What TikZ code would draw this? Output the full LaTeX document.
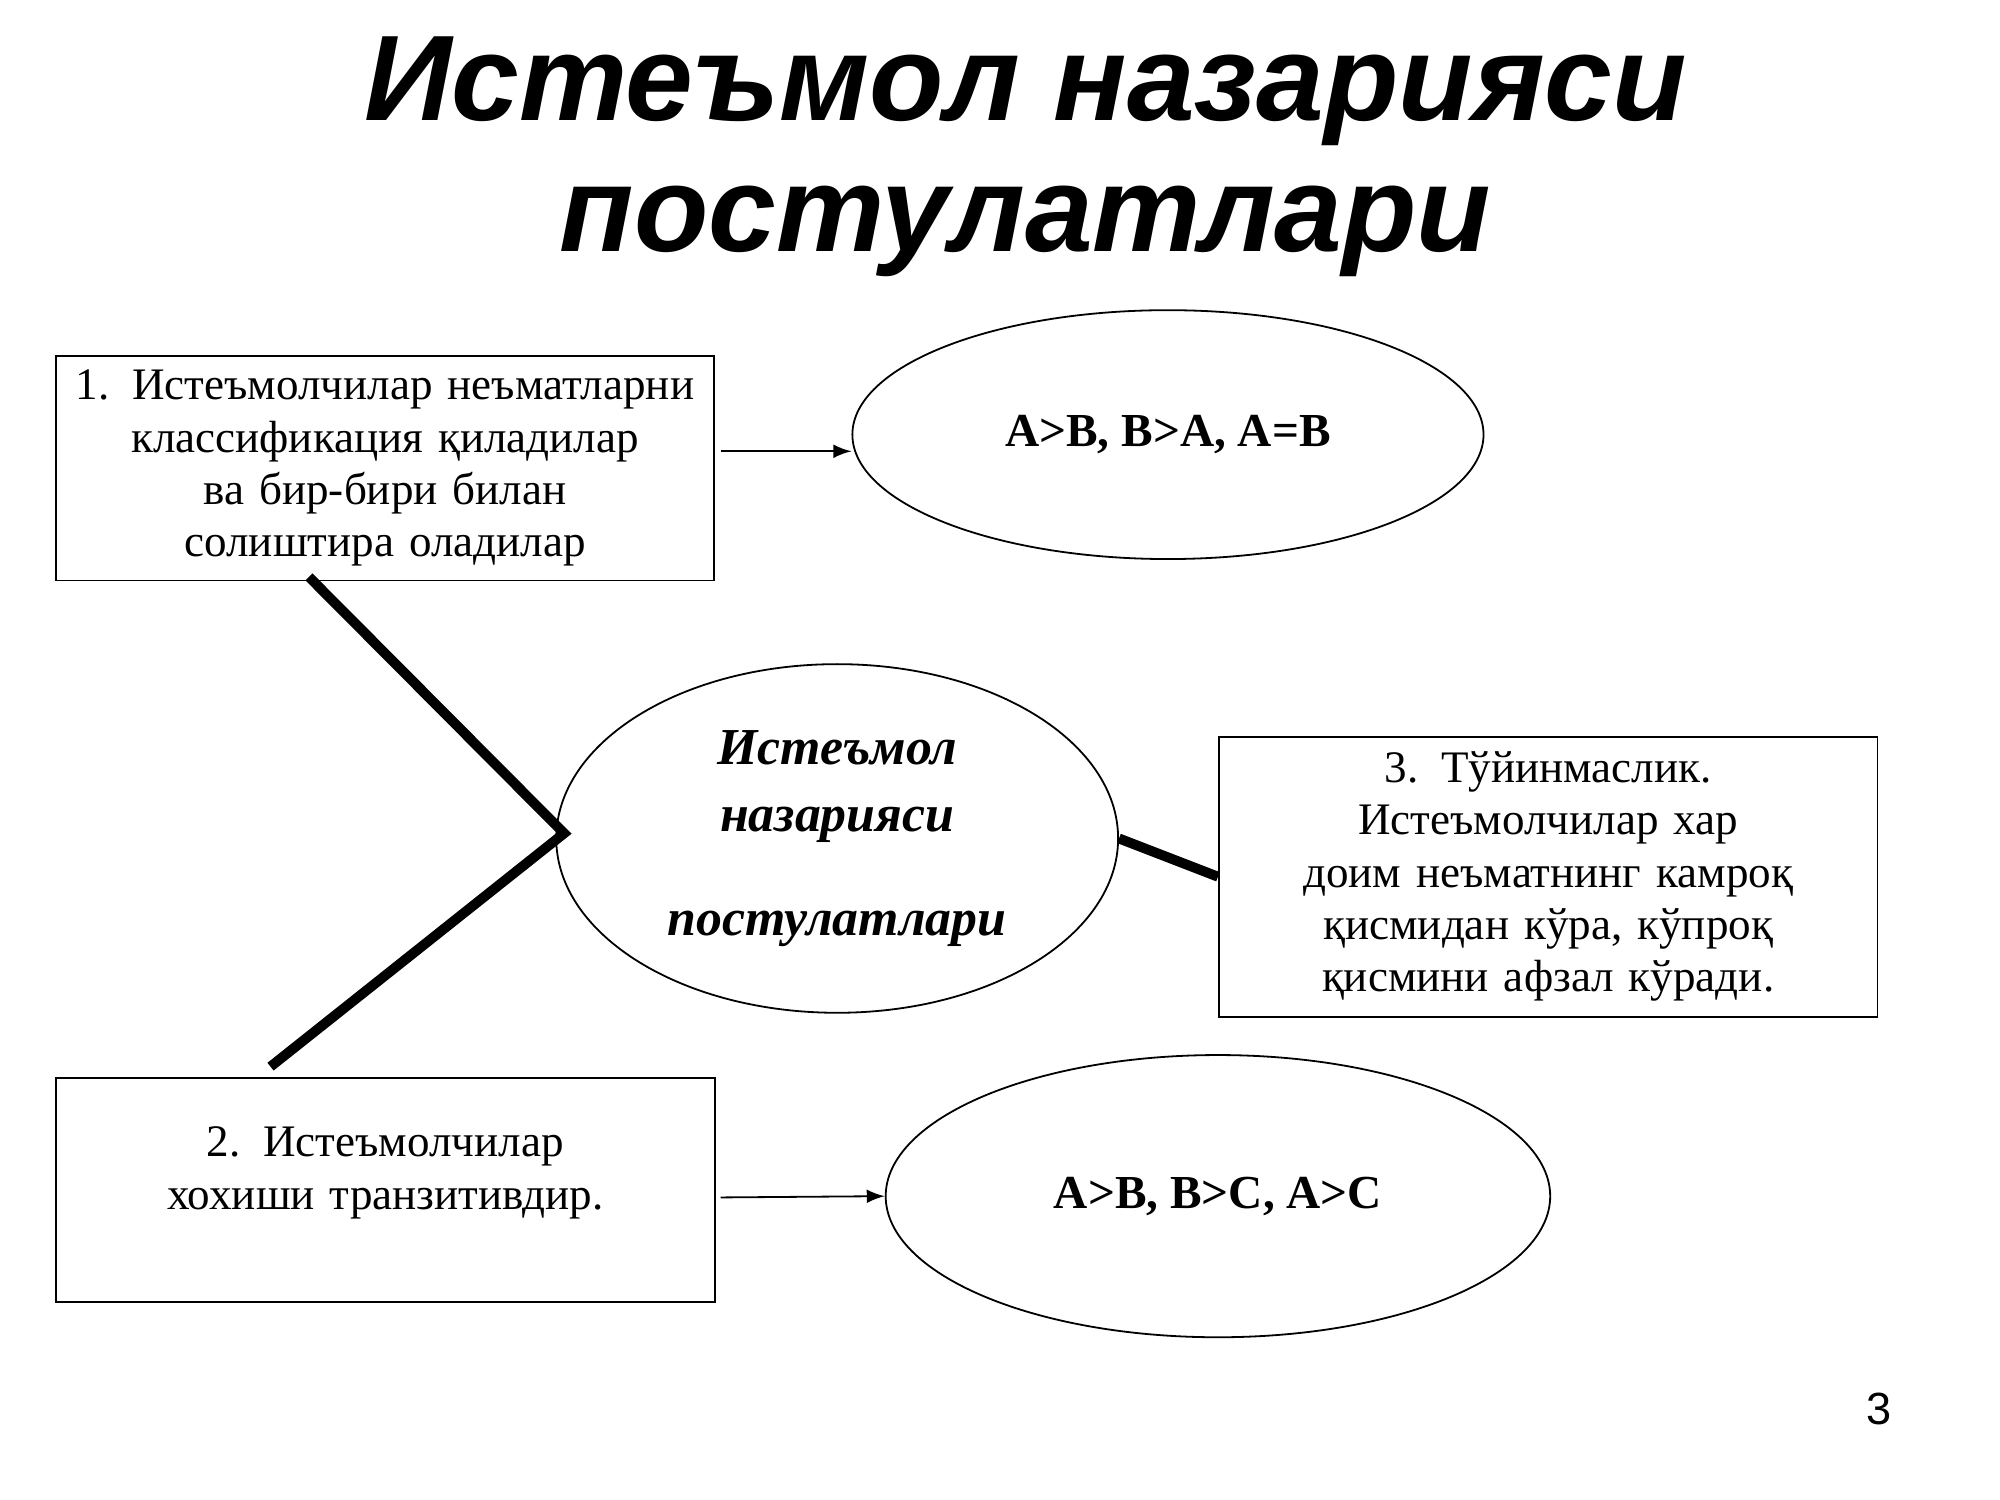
\documentclass[tikz,border=0pt]{standalone}
\usepackage{fontspec}
\setmainfont{Liberation Serif}
\newfontfamily\titlefont{Liberation Sans}
\usetikzlibrary{arrows, positioning, shapes.geometric}
\tikzstyle{line} = [draw, -latex,>=latex]
\tikzstyle{thick line} = [draw, line width=2.2pt]
\tikzstyle{postbox} = [draw, minimum width=5.13cm, minimum height=1.75cm, text width=4.9cm, align=center, font=\fontsize{10}{11.6}\selectfont]
\tikzstyle{oval} = [draw, ellipse, font=\fontsize{10.5}{12}\selectfont\bfseries]

\begin{document}
\begin{tikzpicture}[x=0.01cm, y=-0.01cm]
    \useasboundingbox (0,0) rectangle (1560,1170);

    % title
    \node[font=\titlefont\fontsize{27}{30}\selectfont\bfseries\itshape, align=center] (title) at (800,122)
        {Истеъмол назарияси\\[-1pt]постулатлари};

    % boxes
    \node[postbox, anchor=north west, inner sep=2pt] (p1) at (43,277)
        {1. Истеъмолчилар неъматларни классификация қиладилар ва бир-бири билан солиштира оладилар};
    \node[postbox, anchor=north west] (p3) at (950,574)
        {3. Тўйинмаслик. Истеъмолчилар хар доим неъматнинг камроқ қисмидан кўра, кўпроқ қисмини афзал кўради.};
    \node[postbox, anchor=north west, text depth=0.75cm] (p2) at (43,840)
        {2. Истеъмолчилар хохиши транзитивдир.};

    % ovals
    \node[oval, minimum width=4.92cm, minimum height=1.94cm] (e1) at (911,339) {A>B, B>A, A=B};
    \node[oval, minimum width=4.38cm, minimum height=2.30cm, font=\fontsize{11.5}{13}\selectfont\bfseries\itshape, align=center] (core) at (653,654)
        {Истеъмол\\[2pt]назарияси\\[10pt]постулатлари};
    \node[oval, minimum width=5.18cm, minimum height=2.20cm] (e2) at (950,933) {A>B, B>C, A>C};

    % connectors
    \coordinate (a1) at (562,352);
    \coordinate (a2) at (562,934);
    \coordinate (j1) at (241,450);
    \coordinate (j2) at (211,832);
    \coordinate (tip) at (440,650);
    \path[line] (a1) -- (e1.west |- a1);
    \path[line] (a2) -- (e2.west);
    \path[thick line] (j1) -- (tip) -- (j2);
    \path[thick line] (core.east) -- (p3.west);

    \node[font=\titlefont\fontsize{10}{12}\selectfont] (page) at (1466,1099) {3};
\end{tikzpicture}
\end{document}
